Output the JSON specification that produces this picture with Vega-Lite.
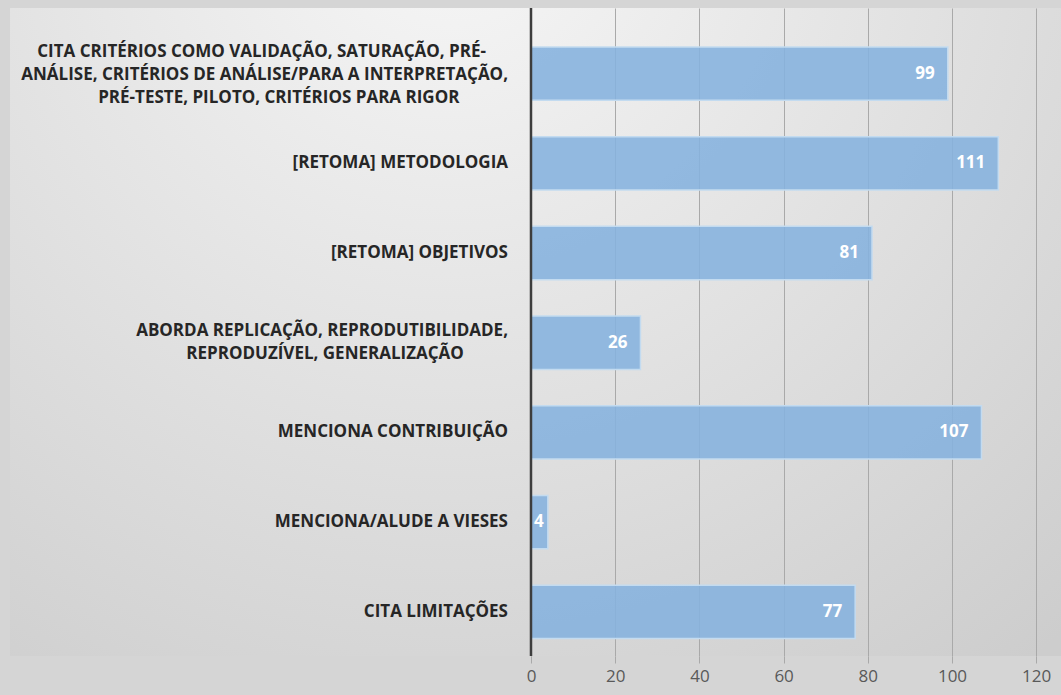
{
  "$schema": "https://vega.github.io/schema/vega-lite/v6.json",
  "width": 1051,
  "height": 648,
  "autosize": {"type": "none"},
  "padding": {"left": 10, "top": 8, "right": 0, "bottom": 39},
  "background": "#d5d5d5",
  "config": {
    "font": "Open Sans",
    "view": {
      "stroke": null,
      "fill": {
        "gradient": "radial",
        "x1": 0.42, "y1": 0.1, "r1": 0,
        "x2": 0.42, "y2": 0.1, "r2": 0.9,
        "stops": [
          {"offset": 0, "color": "#f7f7f7"},
          {"offset": 1, "color": "#cdcdcd"}
        ]
      }
    }
  },
  "data": {
    "values": [
      {"cat": "CITA CRITÉRIOS COMO VALIDAÇÃO, SATURAÇÃO, PRÉ-\u00a0\u00a0\u00a0\u00a0\u00a0\u200b\nANÁLISE, CRITÉRIOS DE ANÁLISE/PARA A INTERPRETAÇÃO,\nPRÉ-TESTE, PILOTO, CRITÉRIOS PARA RIGOR\u00a0\u00a0\u00a0\u00a0\u00a0\u00a0\u00a0\u00a0\u00a0\u00a0\u00a0\u200b", "value": 99},
      {"cat": "[RETOMA] METODOLOGIA", "value": 111},
      {"cat": "[RETOMA] OBJETIVOS", "value": 81},
      {"cat": "ABORDA REPLICAÇÃO, REPRODUTIBILIDADE,\nREPRODUZÍVEL, GENERALIZAÇÃO\u00a0\u00a0\u00a0\u00a0\u00a0\u00a0\u00a0\u00a0\u00a0\u00a0\u200b", "value": 26},
      {"cat": "MENCIONA CONTRIBUIÇÃO", "value": 107},
      {"cat": "MENCIONA/ALUDE A VIESES", "value": 4},
      {"cat": "CITA LIMITAÇÕES", "value": 77}
    ]
  },
  "layer": [
    {
      "mark": {"type": "bar", "color": "#85B2DE", "fillOpacity": 0.88, "stroke": "#C3DBF0", "strokeWidth": 1.5},
      "encoding": {
        "y": {"field": "cat", "type": "nominal", "sort": null, "axis": null,
              "scale": {"paddingInner": 0.405, "paddingOuter": 0.3146, "align": 0.69}},
        "x": {"field": "value", "type": "quantitative",
              "scale": {"domain": [-123.75, 125.89], "nice": false},
              "axis": {"values": [0, 20, 40, 60, 80, 100, 120], "grid": true, "gridColor": "#a9a9a9", "gridWidth": 1,
                       "domain": false, "tickColor": "#a9a9a9", "tickSize": 7, "labelFontSize": 17,
                       "labelColor": "#595959", "labelPadding": 5, "title": null, "labelFont": "Open Sans"}}
      }
    },
    {
      "data": {"values": [{"z": 0}]},
      "mark": {"type": "rule", "color": "#3d3d3d", "strokeWidth": 2.5},
      "encoding": {"x": {"datum": 0}}
    },
    {
      "transform": [{"filter": "length(split(datum.cat, '\\n')) == 1"}],
      "mark": {"type": "text", "align": "right", "baseline": "middle", "dx": -23, "font": "Open Sans", "fontWeight": "bold",
               "fontSize": 17, "color": "#262626", "lineBreak": "\n", "lineHeight": 23},
      "encoding": {
        "y": {"field": "cat", "type": "nominal", "sort": null},
        "x": {"datum": 0},
        "text": {"field": "cat"}
      }
    },
    {
      "transform": [{"filter": "length(split(datum.cat, '\\n')) == 2"}],
      "mark": {"type": "text", "align": "right", "baseline": "middle", "dx": -23, "dy": -11.5, "font": "Open Sans", "fontWeight": "bold",
               "fontSize": 17, "color": "#262626", "lineBreak": "\n", "lineHeight": 23},
      "encoding": {
        "y": {"field": "cat", "type": "nominal", "sort": null},
        "x": {"datum": 0},
        "text": {"field": "cat"}
      }
    },
    {
      "transform": [{"filter": "length(split(datum.cat, '\\n')) == 3"}],
      "mark": {"type": "text", "align": "right", "baseline": "middle", "dx": -23, "dy": -22, "font": "Open Sans", "fontWeight": "bold",
               "fontSize": 17, "color": "#262626", "lineBreak": "\n", "lineHeight": 23},
      "encoding": {
        "y": {"field": "cat", "type": "nominal", "sort": null},
        "x": {"datum": 0},
        "text": {"field": "cat"}
      }
    },
    {
      "transform": [{"filter": "datum.value >= 10"}],
      "mark": {"type": "text", "align": "right", "baseline": "middle", "dx": -13, "font": "Open Sans", "fontWeight": "bold",
               "fontSize": 17, "color": "white"},
      "encoding": {
        "y": {"field": "cat", "type": "nominal", "sort": null},
        "x": {"field": "value", "type": "quantitative"},
        "text": {"field": "value"}
      }
    },
    {
      "transform": [{"filter": "datum.value < 10"}],
      "mark": {"type": "text", "align": "right", "baseline": "middle", "dx": -4, "font": "Open Sans", "fontWeight": "bold",
               "fontSize": 17, "color": "white"},
      "encoding": {
        "y": {"field": "cat", "type": "nominal", "sort": null},
        "x": {"field": "value", "type": "quantitative"},
        "text": {"field": "value"}
      }
    }
  ]
}
